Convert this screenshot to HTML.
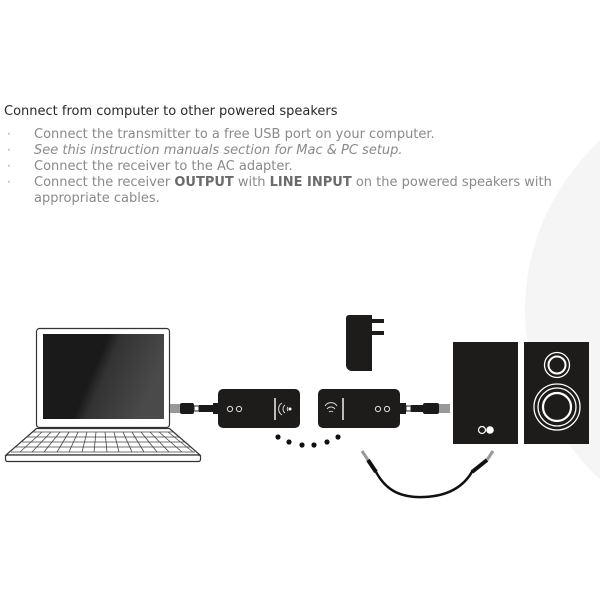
<!DOCTYPE html>
<html><head><meta charset="utf-8"><style>
html,body{margin:0;padding:0;background:#fff;}
body{width:600px;height:600px;position:relative;overflow:hidden;font-family:"DejaVu Sans","Liberation Sans",sans-serif;}
.t{position:absolute;left:4px;top:104px;font-size:13px;color:#2a2a2a;white-space:nowrap;letter-spacing:0px}
.l{position:absolute;left:34px;font-size:13px;color:#8a8a8a;white-space:nowrap;letter-spacing:0px}
.b{position:absolute;left:7px;font-size:12px;color:#999}
.l b{color:#6a6a6a;font-weight:bold}
</style></head><body>
<svg width="600" height="600" style="position:absolute;left:0;top:0">
<ellipse cx="770" cy="310" rx="245" ry="235" fill="#f5f5f5"/>
<!-- laptop -->
<rect x="36.5" y="328.5" width="133" height="99" rx="3" fill="#fff" stroke="#333" stroke-width="1.2"/>
<defs><linearGradient id="g" x1="0" y1="0" x2="1" y2="0.3"><stop offset="0.5" stop-color="#1a1a1a"/><stop offset="0.6" stop-color="#333"/><stop offset="1" stop-color="#4a4a4a"/></linearGradient></defs>
<rect x="43" y="334" width="121" height="85" fill="url(#g)"/>
<polygon points="36.5,428.5 169.5,428.5 200,455 6,455" fill="#fff" stroke="#333" stroke-width="1.2"/>
<rect x="5.5" y="455" width="195" height="6.5" rx="2" fill="#fff" stroke="#333" stroke-width="1.2"/>
<g stroke="#444" stroke-width="0.8" fill="none">
<line x1="33" y1="432" x2="173" y2="432"/><line x1="27" y1="437" x2="179" y2="437"/><line x1="22" y1="442" x2="185" y2="442"/><line x1="16" y1="447" x2="190" y2="447"/><line x1="11" y1="452" x2="195" y2="452"/>
</g>
<g stroke="#444" stroke-width="0.8">
<line x1="42" y1="432" x2="20" y2="452"/><line x1="51" y1="432" x2="32" y2="452"/><line x1="60" y1="432" x2="44" y2="452"/><line x1="69" y1="432" x2="57" y2="452"/><line x1="78" y1="432" x2="69" y2="452"/><line x1="87" y1="432" x2="82" y2="452"/><line x1="96" y1="432" x2="94" y2="452"/><line x1="105" y1="432" x2="107" y2="452"/><line x1="114" y1="432" x2="119" y2="452"/><line x1="123" y1="432" x2="132" y2="452"/><line x1="132" y1="432" x2="144" y2="452"/><line x1="141" y1="432" x2="157" y2="452"/><line x1="150" y1="432" x2="169" y2="452"/><line x1="159" y1="432" x2="182" y2="452"/><line x1="168" y1="432" x2="193" y2="452"/>
</g>
<!-- usb left -->
<rect x="170" y="404" width="10" height="9" fill="#999"/>
<rect x="180" y="403" width="14" height="11" rx="2" fill="#1a1a1a"/>
<rect x="194" y="406" width="5" height="5" fill="#fff" stroke="#222"/>
<rect x="199" y="405" width="14" height="7" fill="#1a1a1a"/>
<rect x="213" y="403" width="6" height="11" fill="#1a1a1a"/>
<!-- transmitter -->
<rect x="218" y="389" width="82" height="39" rx="5" fill="#1e1b1b"/>
<circle cx="230" cy="409" r="2.6" fill="none" stroke="#ddd" stroke-width="1"/><circle cx="239" cy="409" r="2.6" fill="none" stroke="#ddd" stroke-width="1"/>
<rect x="274" y="398" width="2" height="22" fill="#bbb"/>
<path d="M282 403 a7 7 0 0 0 0 12 M285 405 a5 5 0 0 0 0 8 M288 407 a3 3 0 0 0 0 4" stroke="#ddd" fill="none" stroke-width="1"/>
<circle cx="290" cy="409" r="1.5" fill="#fff"/>
<!-- receiver -->
<rect x="318" y="389" width="82" height="39" rx="5" fill="#1e1b1b"/>
<path d="M334 403 a7 7 0 0 1 0 12 M331 405 a5 5 0 0 1 0 8 M328 407 a3 3 0 0 1 0 4" stroke="#ddd" fill="none" stroke-width="1" transform="rotate(-90 331 409)"/>
<rect x="342" y="398" width="2" height="22" fill="#bbb"/>
<circle cx="378" cy="409" r="2.6" fill="none" stroke="#ddd" stroke-width="1"/><circle cx="387" cy="409" r="2.6" fill="none" stroke="#ddd" stroke-width="1"/>
<!-- usb right -->
<rect x="400" y="403" width="6" height="11" fill="#1a1a1a"/>
<rect x="406" y="406" width="5" height="5" fill="#fff" stroke="#222"/>
<rect x="411" y="405" width="12" height="7" fill="#1a1a1a"/>
<rect x="423" y="403" width="16" height="11" rx="2" fill="#1a1a1a"/>
<rect x="439" y="404" width="11" height="9" fill="#999"/>
<!-- adapter -->
<path d="M349 315 H372 V371 H352 a6 6 0 0 1 -6 -6 V318 a3 3 0 0 1 3 -3z" fill="#1e1b1b"/>
<rect x="372" y="319" width="12" height="4" fill="#1e1b1b"/><rect x="372" y="331" width="12" height="4" fill="#1e1b1b"/>
<!-- dots -->
<g fill="#111"><circle cx="278" cy="437" r="2.6"/><circle cx="289" cy="442" r="2.6"/><circle cx="302" cy="445" r="2.6"/><circle cx="314" cy="445" r="2.6"/><circle cx="327" cy="442" r="2.6"/><circle cx="338" cy="437" r="2.6"/></g>
<!-- cable -->
<path d="M375 470 C385 490 400 498 424 497 C450 496 465 485 473 470" stroke="#111" stroke-width="2.5" fill="none"/>
<line x1="362" y1="451" x2="368" y2="460" stroke="#999" stroke-width="3"/>
<line x1="368" y1="460" x2="376" y2="472" stroke="#111" stroke-width="4"/>
<line x1="493" y1="451" x2="487" y2="460" stroke="#999" stroke-width="3"/>
<line x1="487" y1="460" x2="472" y2="472" stroke="#111" stroke-width="4"/>
<!-- speakers -->
<rect x="453" y="342" width="65" height="102" fill="#1e1b1b"/>
<circle cx="482" cy="430" r="3.5" fill="none" stroke="#fff" stroke-width="1.2"/><circle cx="490" cy="430" r="3.8" fill="#fff"/>
<rect x="524" y="342" width="65" height="102" fill="#1e1b1b"/>
<circle cx="557" cy="365" r="12.5" fill="none" stroke="#fff" stroke-width="1.3"/><circle cx="557" cy="365" r="8.5" fill="none" stroke="#fff" stroke-width="2"/>
<circle cx="557" cy="407" r="23" fill="none" stroke="#fff" stroke-width="1.3"/><circle cx="557" cy="407" r="19" fill="none" stroke="#fff" stroke-width="1.3"/><circle cx="557" cy="407" r="14" fill="none" stroke="#fff" stroke-width="2.2"/>
</svg>
<div class="t">Connect from computer to other powered speakers</div>
<div class="b" style="top:127px">·</div><div class="l" style="top:127px">Connect the transmitter to a free USB port on your computer.</div>
<div class="b" style="top:143px">·</div><div class="l" style="top:143px;font-style:italic">See this instruction manuals section for Mac &amp; PC setup.</div>
<div class="b" style="top:159px">·</div><div class="l" style="top:159px">Connect the receiver to the AC adapter.</div>
<div class="b" style="top:175px">·</div><div class="l" style="top:175px">Connect the receiver <b>OUTPUT</b> with <b>LINE INPUT</b> on the powered speakers with</div>
<div class="l" style="top:191px">appropriate cables.</div>
</body></html>
